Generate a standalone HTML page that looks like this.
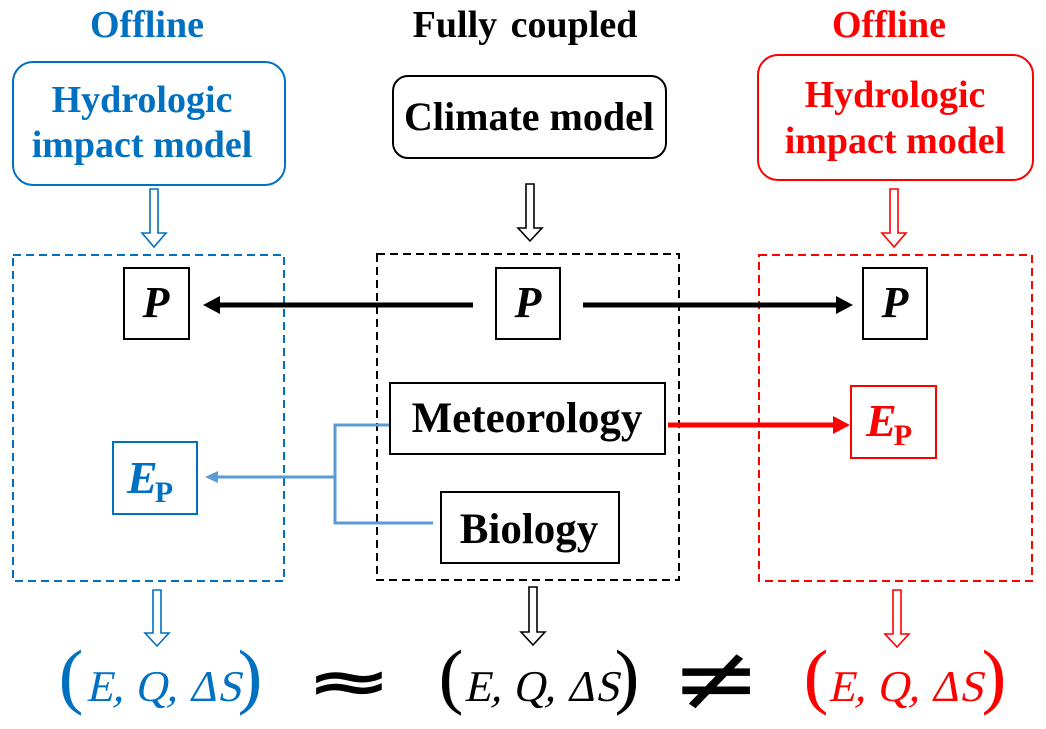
<!DOCTYPE html>
<html><head><meta charset="utf-8"><style>
html,body{margin:0;padding:0;background:#fff;}
svg{display:block;}
text{font-family:"Liberation Serif","DejaVu Serif",serif;}
</style></head><body>
<svg width="1046" height="729" viewBox="0 0 1046 729" xmlns="http://www.w3.org/2000/svg">
<!-- Titles -->
<text x="147" y="37" font-size="38" font-weight="bold" fill="#0070c0" text-anchor="middle">Offline</text>
<text x="525" y="37" font-size="38" font-weight="bold" fill="#000" text-anchor="middle" word-spacing="4">Fully coupled</text>
<text x="889" y="37" font-size="38" font-weight="bold" fill="#ff0000" text-anchor="middle">Offline</text>

<!-- Top rounded boxes -->
<rect x="13" y="62" width="272" height="123" rx="20" fill="none" stroke="#0070c0" stroke-width="2"/>
<text x="142" y="112" font-size="38" font-weight="bold" fill="#0070c0" text-anchor="middle">Hydrologic</text>
<text x="142" y="157" font-size="38" font-weight="bold" fill="#0070c0" text-anchor="middle">impact model</text>

<rect x="393" y="76" width="273" height="82" rx="15" fill="none" stroke="#000" stroke-width="2"/>
<text x="529" y="130" font-size="40" font-weight="bold" fill="#000" text-anchor="middle">Climate model</text>

<rect x="758" y="55" width="275" height="125" rx="20" fill="none" stroke="#ff0000" stroke-width="2"/>
<text x="895" y="107" font-size="38" font-weight="bold" fill="#ff0000" text-anchor="middle">Hydrologic</text>
<text x="895" y="153" font-size="38" font-weight="bold" fill="#ff0000" text-anchor="middle">impact model</text>

<!-- Hollow arrows top -->
<polygon points="150,189 158,189 158,233 166,233 154,247 142,233 150,233" fill="#fff" stroke="#0070c0" stroke-width="1.6"/>
<polygon points="526,184 534,184 534,228 542,228 530,241 518,228 526,228" fill="#fff" stroke="#000" stroke-width="1.6"/>
<polygon points="890,189 898,189 898,233 906,233 894,247 882,233 890,233" fill="#fff" stroke="#ff0000" stroke-width="1.6"/>

<!-- Dashed boxes -->
<rect x="13" y="255" width="271" height="326" fill="none" stroke="#0070c0" stroke-width="2" stroke-dasharray="8,5"/>
<rect x="377" y="254" width="302" height="326" fill="none" stroke="#000" stroke-width="2" stroke-dasharray="8,5"/>
<rect x="759" y="255" width="273" height="326" fill="none" stroke="#ff0000" stroke-width="2" stroke-dasharray="8,5"/>

<!-- P boxes -->
<rect x="124" y="268" width="65" height="71" fill="#fff" stroke="#000" stroke-width="2"/>
<text x="156" y="317" font-size="44" font-weight="bold" font-style="italic" text-anchor="middle">P</text>
<rect x="496" y="268" width="64" height="71" fill="#fff" stroke="#000" stroke-width="2"/>
<text x="528" y="317" font-size="44" font-weight="bold" font-style="italic" text-anchor="middle">P</text>
<rect x="863" y="268" width="64" height="71" fill="#fff" stroke="#000" stroke-width="2"/>
<text x="895" y="317" font-size="44" font-weight="bold" font-style="italic" text-anchor="middle">P</text>

<!-- Black arrows -->
<line x1="473" y1="305" x2="218" y2="305" stroke="#000" stroke-width="5"/>
<polygon points="203,305 220,296 220,314" fill="#000"/>
<line x1="583" y1="305" x2="838" y2="305" stroke="#000" stroke-width="5"/>
<polygon points="853,305 836,296 836,314" fill="#000"/>

<!-- Meteorology / Biology -->
<rect x="390" y="383" width="275" height="71" fill="#fff" stroke="#000" stroke-width="2"/>
<text x="527" y="432" font-size="43" font-weight="bold" text-anchor="middle">Meteorology</text>
<rect x="441" y="492" width="178" height="71" fill="#fff" stroke="#000" stroke-width="2"/>
<text x="529" y="543" font-size="43" font-weight="bold" text-anchor="middle">Biology</text>

<!-- Blue connectors -->
<polyline points="389,425 335,425 335,523 433,523" fill="none" stroke="#5b9bd5" stroke-width="3"/>
<line x1="335" y1="477" x2="215" y2="477" stroke="#5b9bd5" stroke-width="3"/>
<polygon points="205,477 218,471 218,483" fill="#5b9bd5"/>

<!-- Red arrow -->
<line x1="668" y1="425" x2="836" y2="425" stroke="#ff0000" stroke-width="5"/>
<polygon points="850,425 833,416 833,434" fill="#ff0000"/>

<!-- E_P boxes -->
<rect x="113" y="442" width="84" height="72" fill="#fff" stroke="#0070c0" stroke-width="2"/>
<text x="127" y="493" font-size="46" font-weight="bold" fill="#0070c0"><tspan font-style="italic">E</tspan><tspan font-size="30" dy="9" dx="-3">P</tspan></text>
<rect x="851" y="386" width="85" height="72" fill="#fff" stroke="#ff0000" stroke-width="2"/>
<text x="866" y="436" font-size="46" font-weight="bold" fill="#ff0000"><tspan font-style="italic">E</tspan><tspan font-size="30" dy="9" dx="-3">P</tspan></text>

<!-- Bottom hollow arrows -->
<polygon points="153,590 161,590 161,633 169,633 157,646 145,633 153,633" fill="#fff" stroke="#0070c0" stroke-width="1.6"/>
<polygon points="529,587 537,587 537,632 545,632 533,645 521,632 529,632" fill="#fff" stroke="#000" stroke-width="1.6"/>
<polygon points="893,590 901,590 901,634 909,634 897,647 885,634 893,634" fill="#fff" stroke="#ff0000" stroke-width="1.6"/>

<!-- Bottom expressions -->
<g fill="#0070c0" stroke="#0070c0">
<text x="59" y="700" font-size="72" stroke-width="0.4">(</text>
<text x="86" y="701" font-size="44" stroke-width="0" transform="translate(149 0) skewX(-12)">E, Q, ΔS</text>
<text x="262" y="700" font-size="72" text-anchor="end" stroke-width="0.4">)</text>
</g>
<g fill="#000" stroke="#000">
<text x="439" y="700" font-size="72" stroke-width="0.4">(</text>
<text x="464" y="701" font-size="44" stroke-width="0" transform="translate(149 0) skewX(-12)">E, Q, ΔS</text>
<text x="639" y="700" font-size="72" text-anchor="end" stroke-width="0.4">)</text>
</g>
<g fill="#ff0000" stroke="#ff0000">
<text x="804" y="700" font-size="72" stroke-width="0.4">(</text>
<text x="828" y="701" font-size="44" stroke-width="0" transform="translate(149 0) skewX(-12)">E, Q, ΔS</text>
<text x="1006" y="700" font-size="72" text-anchor="end" stroke-width="0.4">)</text>
</g>

<!-- approx and not-equal -->
<g transform="translate(349 684) scale(1.38 0.75) translate(-349 -684)">
<text x="349" y="707" font-size="76" font-weight="bold" text-anchor="middle" style='font-family:"DejaVu Sans",sans-serif'>≈</text>
</g>
<g transform="translate(716 679) scale(1.35 1.15) translate(-716 -679)">
<text x="716" y="706" font-size="80" text-anchor="middle" style='font-family:"DejaVu Sans",sans-serif'>≠</text>
</g>
</svg>
</body></html>
